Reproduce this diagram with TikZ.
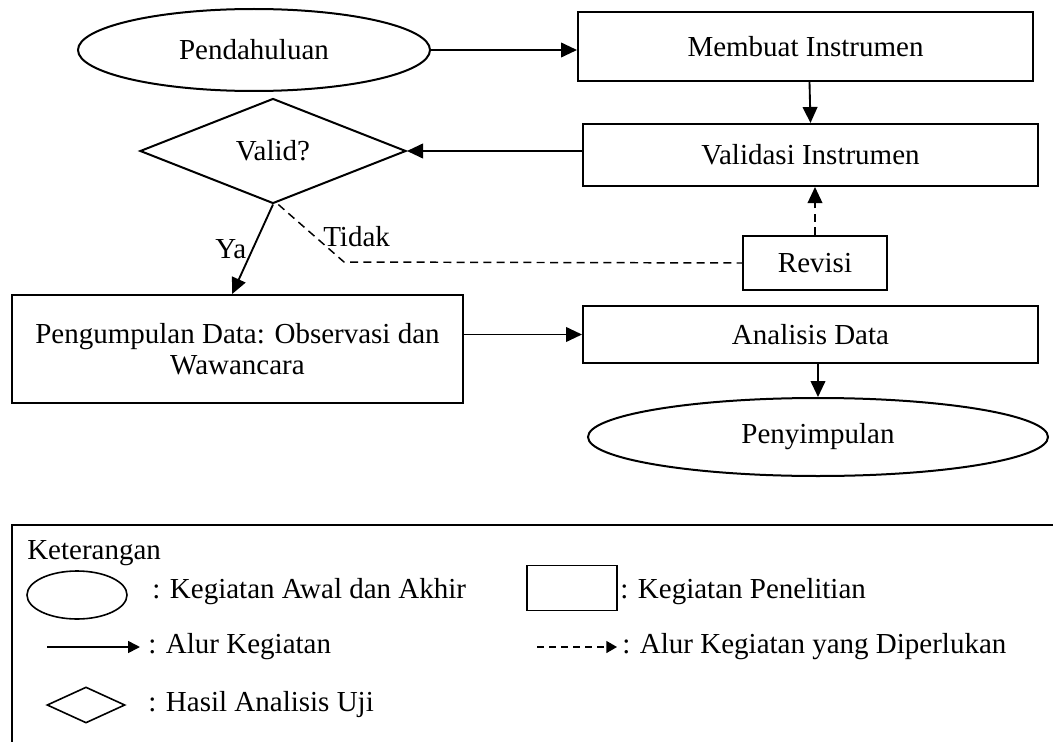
\documentclass[tikz,border=0pt]{standalone}
\usepackage{fontspec}
\setmainfont{Liberation Serif}
\usetikzlibrary{shapes.geometric,arrows.meta,calc}
\begin{document}
\begin{tikzpicture}[x=0.75pt,y=-0.75pt,
  every node/.style={font=\fontsize{21.75}{24}\selectfont, inner sep=0pt},
  boxnode/.style={draw, line width=1.5pt, rectangle},
  ovalnode/.style={draw, line width=1.5pt, ellipse},
  decnode/.style={draw, line width=1.5pt, diamond},
  arr/.style={line width=1.4pt, -{Triangle[length=12pt,width=11pt]}},
  darr/.style={line width=1.1pt, dash pattern=on 6pt off 4pt, -{Triangle[length=12pt,width=11pt]}},
  dline/.style={line width=1.1pt, dash pattern=on 6pt off 4pt},
  lbl/.style={anchor=west}
]
\useasboundingbox (0,0) rectangle (1053,742);

% main flow
\node[ovalnode, minimum width=352*0.75pt, minimum height=82*0.75pt] (pend) at (254,50) {Pendahuluan};
\node[boxnode, minimum width=455*0.75pt, minimum height=69*0.75pt] (membuat) at (805.5,46.5) {Membuat Instrumen};
\node[boxnode, minimum width=455*0.75pt, minimum height=62*0.75pt] (validasi) at (810.5,155) {Validasi Instrumen};
\node[decnode, minimum width=266*0.75pt, minimum height=105*0.75pt] (valid) at (273,151) {Valid?};
\node[boxnode, minimum width=144*0.75pt, minimum height=54*0.75pt] (revisi) at (815,263) {Revisi};
\node[boxnode, minimum width=451*0.75pt, minimum height=108*0.75pt, align=center,
      font=\fontsize{21.75}{23}\selectfont] (kumpul) at (237.5,349)
      {Pengumpulan Data: Observasi dan\\Wawancara};
\node[boxnode, minimum width=455*0.75pt, minimum height=57*0.75pt] (analisis) at (810.5,334.5) {Analisis Data};
\node[ovalnode, minimum width=460*0.75pt, minimum height=78*0.75pt] (simpul) at (818,437) {Penyimpulan};

\coordinate (bend) at (344,262);

\draw[arr] (pend.east) -- (pend.east -| membuat.west);
\draw[arr] ([xshift=3pt]membuat.south) -- (validasi.north);
\draw[arr] (validasi.west |- valid.east) -- (valid.east);
\draw[arr] (valid.south) -- node[pos=0.5, left=4pt] {Ya} ([xshift=-4pt]kumpul.north);
\draw[dline] ([xshift=4pt]valid.south) -- (bend) -- (revisi.west);
\node[lbl] (tidak) at (323,237) {Tidak};
\draw[darr] (revisi.north) -- (validasi.south -| revisi.north);
\draw[arr] (kumpul.east |- analisis.west) -- (analisis.west);
\draw[arr] (analisis.south -| simpul.north) -- (simpul.north);

% legend
\coordinate (lgtr) at (1053,525);
\coordinate (lgtl) at (12,525);
\coordinate (lgbl) at (12,742);
\draw[line width=1.1pt] (lgtr) -- (lgtl) -- (lgbl);
\node[lbl] (ket) at (27,553) {Keterangan};
\node[ovalnode, line width=1.2pt, minimum width=100*0.75pt, minimum height=48*0.75pt] (lgell) at (77,595) {};
\node[lbl] (lgelltxt) at (152,592) {: Kegiatan Awal dan Akhir};
\node[boxnode, line width=1.2pt, minimum width=90*0.75pt, minimum height=45*0.75pt] (lgbox) at (572,588) {};
\node[lbl] (lgboxtxt) at (620,592) {: Kegiatan Penelitian};
\coordinate (la1) at (47,647);
\coordinate (la2) at (140,647);
\draw[line width=1.2pt, -{Triangle[length=9pt,width=9pt]}] (la1) -- (la2);
\node[lbl] (lgarrtxt) at (148,647) {: Alur Kegiatan};
\coordinate (ld1) at (537,647);
\coordinate (ld2) at (617,647);
\draw[line width=1pt, dash pattern=on 5pt off 4pt, -{Triangle[length=8pt,width=9pt]}] (ld1) -- (ld2);
\node[lbl] (lgdtxt) at (622,647) {: Alur Kegiatan yang Diperlukan};
\node[decnode, line width=1.2pt, minimum width=78*0.75pt, minimum height=36*0.75pt] (lgdia) at (86,705) {};
\node[lbl] (lgdiatxt) at (148,705) {: Hasil Analisis Uji};
\end{tikzpicture}
\end{document}
